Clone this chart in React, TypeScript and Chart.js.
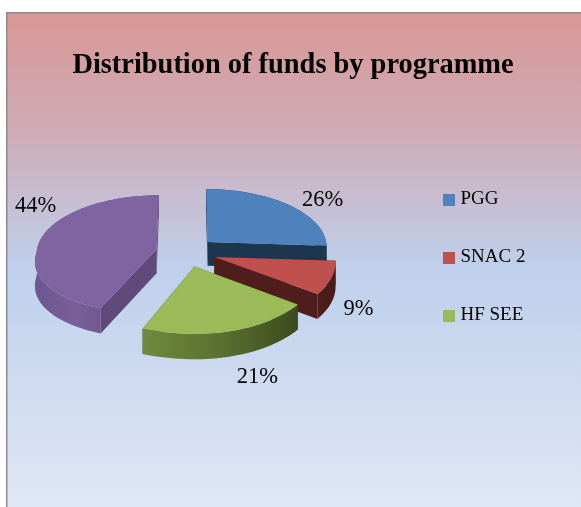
import React, { useEffect, useRef } from "react";
import { Chart, registerables } from "chart.js";

Chart.register(...registerables);

const categories = ["PGG", "SNAC 2", "HF SEE", ""];
const shares = [26, 9, 21, 44];

const topColors = ["#4f81bd", "#c0504d", "#9bbb59", "#8064a2"];
const cutColors = ["#1d3650", "#4f1e1c", "#3d4d20", "#5f4a79"];
const wallStops = [
  ["#1d3650", "#1d3650"],
  ["#4f1e1c", "#4a1b19"],
  ["#6f8b3d", "#5b7030", "#3c4b1f"],
  ["#6d5690", "#7a5f9a", "#6a5288", "#5d4777"],
];
const labelNudge = [
  [34, -5],
  [27, 31],
  [26, 46],
  [-5.5, -32],
];
const drawOrder = [0, 3, 1, 2];

const originX = 186;
const originY = 252;
const tilt = 0.492;
const thickness = 24;

function project(u: number, v: number, z = 0) {
  const k = u < 0 && v > 0 ? 0.0015 : 0.0006;
  const wy = 1 - 0.00071 * v;
  return { x: originX + u * (1 + k * v), y: originY + (tilt * v) / wy + z * (1 + 0.0004 * v) };
}

function tracePath(ctx: CanvasRenderingContext2D, pts: { x: number; y: number }[]) {
  ctx.beginPath();
  pts.forEach((p, i) => (i ? ctx.lineTo(p.x, p.y) : ctx.moveTo(p.x, p.y)));
  ctx.closePath();
}

const backdrop = {
  id: "backdrop",
  beforeDraw(chart: any) {
    const { ctx, width, height } = chart;
    ctx.save();
    ctx.fillStyle = "#ffffff";
    ctx.fillRect(0, 0, width, height);
    const g = ctx.createLinearGradient(0, 13, 0, height);
    g.addColorStop(0, "#d99694");
    g.addColorStop(0.25, "#ceadb9");
    g.addColorStop(0.52, "#bfd0ec");
    g.addColorStop(1, "#e0e7f5");
    ctx.fillStyle = "#8c8c8c";
    ctx.fillRect(6, 12, width - 6, height - 12);
    ctx.fillStyle = g;
    ctx.fillRect(7.5, 13.5, width - 7.5, height - 13.5);
    ctx.restore();
  },
};

const legendPlace = {
  id: "legendPlace",
  afterLayout(chart: any) {
    const lg = chart.legend;
    const pad = lg.options.labels.padding;
    lg.left = 447 - pad;
    lg.top = 190 - pad;
  },
};

const pie3d = {
  id: "pie3d",
  beforeDatasetsDraw(chart: any) {
    const { ctx } = chart;
    const arcs = chart.getDatasetMeta(0).data;
    ctx.save();
    drawOrder.forEach((i) => {
      const el = arcs[i];
      const a0 = el.startAngle;
      const a1 = el.endAngle;
      const R = el.outerRadius;
      const off = el.options.offset;
      const mid = (a0 + a1) / 2;
      const cu = off * Math.cos(mid);
      const cv = off * Math.sin(mid);
      const steps = Math.max(8, Math.round((a1 - a0) * 30));
      const rim: [number, number][] = [];
      for (let s = 0; s <= steps; s++) {
        const a = a0 + ((a1 - a0) * s) / steps;
        rim.push([cu + R * Math.cos(a), cv + R * Math.sin(a)]);
      }
      const top = rim.map(([u, v]) => project(u, v));
      const low = rim.map(([u, v]) => project(u, v, thickness));
      const apexTop = project(cu, cv);
      const apexLow = project(cu, cv, thickness);

      ctx.fillStyle = cutColors[i];
      tracePath(ctx, [apexTop, top[0], low[0], apexLow]);
      ctx.fill();
      tracePath(ctx, [apexTop, top[steps], low[steps], apexLow]);
      ctx.fill();

      const xs = top.map((p) => p.x);
      const grad = ctx.createLinearGradient(Math.min(...xs), 0, Math.max(...xs), 0);
      wallStops[i].forEach((c, k) => grad.addColorStop(k / (wallStops[i].length - 1), c));
      ctx.fillStyle = grad;
      tracePath(ctx, [...top, ...low.slice().reverse()]);
      ctx.fill();

      ctx.fillStyle = topColors[i];
      tracePath(ctx, [apexTop, ...top]);
      ctx.fill();
    });

    ctx.fillStyle = "#000000";
    ctx.font = "22.5px 'Liberation Serif'";
    ctx.textAlign = "center";
    ctx.textBaseline = "middle";
    arcs.forEach((el: any, i: number) => {
      const mid = (el.startAngle + el.endAngle) / 2;
      const rr = el.outerRadius + el.options.offset;
      const p = project(rr * Math.cos(mid), rr * Math.sin(mid));
      ctx.fillText(`${shares[i]}%`, p.x + labelNudge[i][0], p.y + labelNudge[i][1]);
    });
    ctx.restore();
    return false;
  },
};

function swatch(color: string) {
  const c = document.createElement("canvas");
  c.width = 12;
  c.height = 12;
  const x = c.getContext("2d")!;
  x.fillStyle = color;
  x.fillRect(0, 0, 12, 12);
  return c;
}

export default function App() {
  const ref = useRef<HTMLCanvasElement>(null);
  useEffect(() => {
    const chart = new Chart(ref.current!, {
      type: "pie",
      data: {
        labels: categories,
        datasets: [
          {
            data: shares,
            backgroundColor: topColors,
            offset: 30,
            radius: 120,
            borderWidth: 0,
          } as any,
        ],
      },
      options: {
        responsive: false,
        animation: false,
        events: [],
        layout: { padding: { left: 5 } },
        plugins: {
          title: {
            display: true,
            text: "Distribution of funds by programme",
            color: "#000000",
            font: { family: "'Liberation Serif'", size: 28.4, weight: "bold", lineHeight: 1 },
            padding: { top: 51, bottom: 10 },
          },
          legend: {
            display: true,
            position: "right",
            align: "start",
            labels: {
              usePointStyle: true,
              pointStyleWidth: 4,
              padding: 39,
              color: "#000000",
              font: { family: "'Liberation Serif'", size: 19, lineHeight: 1 },
              filter: (item: any) => item.text !== "",
              generateLabels: (c: any) =>
                (Chart.overrides.pie.plugins.legend.labels as any)
                  .generateLabels(c)
                  .map((item: any, i: number) => ({ ...item, pointStyle: swatch(topColors[i]) })),
            },
          },
          tooltip: { enabled: false },
        },
      } as any,
      plugins: [backdrop, legendPlace, pie3d],
    });
    return () => chart.destroy();
  }, []);
  return (
    <canvas
      ref={ref}
      width={581}
      height={507}
      style={{ position: "fixed", left: 0, top: 0, display: "block" }}
    />
  );
}
